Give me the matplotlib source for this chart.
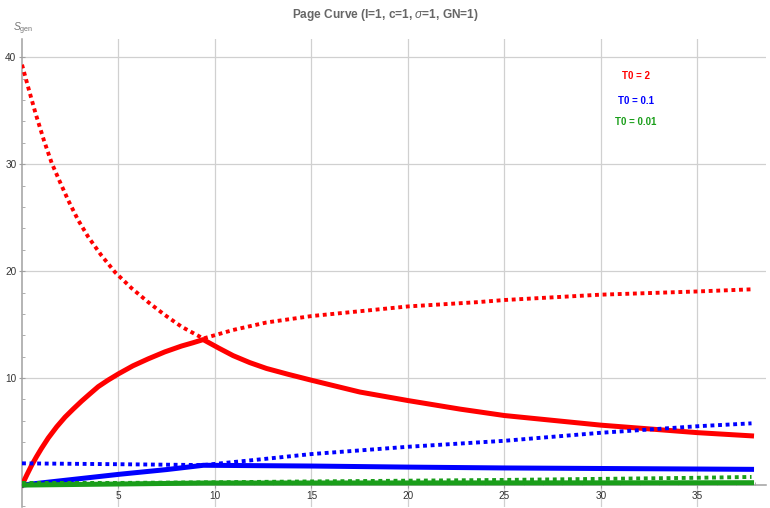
import matplotlib
matplotlib.use('Agg')
import matplotlib.pyplot as plt
from matplotlib.ticker import MultipleLocator, FixedLocator

plt.rcParams['font.family'] = ['Liberation Sans', 'DejaVu Sans']
plt.rcParams['mathtext.fontset'] = 'custom'
plt.rcParams['mathtext.rm'] = 'Liberation Sans'
plt.rcParams['mathtext.it'] = 'Liberation Sans:italic'

# values
red_solid_x = [0, 0.25, 0.5, 0.75, 1.0, 1.36, 1.8, 2.23, 2.65, 3.09, 3.5, 3.95, 4.45, 5.0, 5.75,
               6.54, 7.4, 8.27, 8.85, 9.39,
               10.2, 10.94, 11.8, 12.67, 13.8, 15, 17.5, 20, 22.7, 25, 30, 35, 37.8]
red_solid_y = [0, 0.95, 1.85, 2.65, 3.4, 4.4, 5.45, 6.35, 7.1, 7.85, 8.5, 9.2, 9.8, 10.4, 11.15,
               11.8, 12.45, 13.0, 13.3, 13.6,
               12.8, 12.1, 11.45, 10.9, 10.35, 9.8, 8.7, 7.9, 7.1, 6.5, 5.6, 4.9, 4.6]
red_dot_x = [0, 0.35, 0.71, 1.14, 1.54, 2.0, 2.4, 2.9, 3.43, 4.1, 4.82, 5.68, 6.54, 7.4, 8.27, 9.39,
             10.94, 12.67, 15, 17.5, 20, 23.6, 25, 30, 35, 37.8]
red_dot_y = [39.3, 37.0, 34.7, 32.2, 30.1, 28.2, 26.6, 24.8, 23.2, 21.5, 19.9, 18.4, 17.1, 15.9, 14.8, 13.7,
             14.5, 15.2, 15.8, 16.25, 16.7, 17.1, 17.3, 17.8, 18.1, 18.3]

blue_solid_x = [0, 2.5, 5, 7.5, 9.4, 15, 20, 25, 30, 35, 37.8]
blue_solid_y = [0, 0.5, 1.0, 1.45, 1.85, 1.78, 1.68, 1.6, 1.55, 1.5, 1.47]
blue_dot_x = [0, 5, 9.4, 12.5, 15, 20, 25, 30, 35, 37.8]
blue_dot_y = [2.03, 1.95, 1.87, 2.43, 2.9, 3.58, 4.14, 4.89, 5.5, 5.77]

green_solid_x = [0, 5, 9.4, 20, 30, 37.8]
green_solid_y = [0, 0.1, 0.19, 0.2, 0.21, 0.22]
green_dot_x = [0, 5, 10, 15, 20, 25, 30, 35, 37.8]
green_dot_y = [0.2, 0.2, 0.26, 0.34, 0.41, 0.48, 0.58, 0.68, 0.76]

labels = ['T0 = 2', 'T0 = 0.1', 'T0 = 0.01']
colors = ['#ff0000', '#0000ff', '#1a9e1a']

fig = plt.figure(figsize=(7.7, 5.08), dpi=100)
ax = fig.add_axes([22 / 770, 1 / 508, (766 - 22) / 770, (507 - 39) / 508])

dots = (0, (1, 0.95))
ax.plot(red_solid_x, red_solid_y, color=colors[0], lw=3.6, zorder=3, solid_joinstyle='round')
ax.plot(red_dot_x, red_dot_y, color=colors[0], lw=2.8, ls=dots, zorder=3)
ax.plot(blue_solid_x, blue_solid_y, color=colors[1], lw=3.6, zorder=3)
ax.plot(blue_dot_x, blue_dot_y, color=colors[1], lw=2.8, ls=dots, zorder=3)
ax.plot(green_solid_x, green_solid_y, color=colors[2], lw=3.6, zorder=3)
ax.plot(green_dot_x, green_dot_y, color=colors[2], lw=2.8, ls=dots, zorder=3)

ax.set_xlim(0, 38.55)
ax.set_ylim(-2.05, 41.7)

for s in ['top', 'right']:
    ax.spines[s].set_visible(False)
ax.spines['bottom'].set_position(('data', 0))
ax.spines['left'].set_position(('data', 0))
for s in ['bottom', 'left']:
    ax.spines[s].set_color('#a0a0a0')
    ax.spines[s].set_linewidth(1.1)

ax.xaxis.set_major_locator(FixedLocator([5, 10, 15, 20, 25, 30, 35]))
ax.xaxis.set_minor_locator(MultipleLocator(1))
ax.yaxis.set_major_locator(FixedLocator([10, 20, 30, 40]))
ax.yaxis.set_minor_locator(MultipleLocator(2))
ax.tick_params(which='major', direction='inout', length=4, width=0.8, color='#a0a0a0',
               labelsize=7.2, labelcolor='#333333', pad=2)
ax.tick_params(which='minor', direction='in', length=2.5, width=0.6, color='#a0a0a0')

ax.grid(True, which='major', color='#d0d0d0', lw=0.9)
ax.set_axisbelow(True)

fig.text(0.5, 1 - 15 / 508, r'Page Curve (l=1, c=1, $\sigma$=1, GN=1)', ha='center', va='center',
         fontsize=8.6, fontweight='bold', color='#666666')
fig.text(13 / 770, 1 - 29 / 508, r'$S_{\rm gen}$', ha='left', va='center', fontsize=7.5, color='#777777')

for lab, c, yy in zip(labels, colors, [38.2, 35.9, 33.9]):
    ax.text(31.8, yy, lab, color=c, ha='center', va='center', fontsize=7, fontweight='bold')

fig.savefig('out.png', dpi=100)
